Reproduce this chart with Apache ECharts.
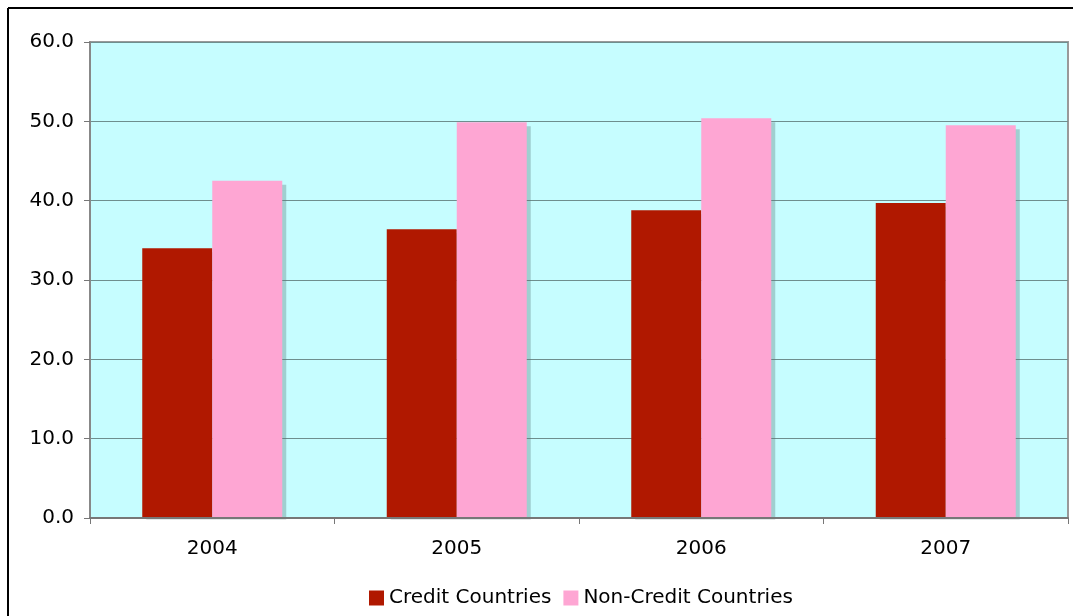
<!DOCTYPE html>
<html><head><meta charset="utf-8">
<script src="https://cdn.jsdelivr.net/npm/echarts@6/dist/echarts.min.js"></script>
<style>html,body{margin:0;padding:0;background:#fff}#c{width:1073px;height:616px}</style>
</head><body><div id="c"></div>
<script>
const categories = ['2004', '2005', '2006', '2007'];
const creditCountries = [34.0, 36.4, 38.8, 39.7];
const nonCreditCountries = [42.5, 49.9, 50.4, 49.5];
const yTicks = { min: 0, max: 60, interval: 10 };

const chart = echarts.init(document.getElementById('c'), null, { renderer: 'canvas' });
const font = '"DejaVu Sans", Verdana, sans-serif';
chart.setOption({
  animation: false,
  backgroundColor: '#fff',
  textStyle: { fontFamily: font },
  graphic: [
    { type: 'line', z: -10, silent: true, shape: { x1: 8, y1: 8, x2: 1073, y2: 8 }, style: { stroke: '#000', lineWidth: 2 } },
    { type: 'line', z: -10, silent: true, shape: { x1: 8, y1: 8, x2: 8, y2: 616 }, style: { stroke: '#000', lineWidth: 2 } },
    { type: 'rect', z: 5, silent: true, shape: { x: 91, y: 519.5, width: 976, height: 5 }, style: { fill: '#fff' } }
  ],
  grid: { left: 90, top: 42, right: 5, bottom: 98, show: true, backgroundColor: '#C6FDFF', borderColor: '#999', borderWidth: 2 },
  legend: {
    bottom: 3, left: 364, itemWidth: 15, itemHeight: 15, itemGap: 12,
    icon: 'rect',
    textStyle: { fontFamily: font, fontSize: 20, color: '#000', padding: [0, 0, 0, 0] },
    data: ['Credit Countries', 'Non-Credit Countries']
  },
  xAxis: {
    type: 'category', data: categories, z: 10,
    axisLine: { lineStyle: { color: '#777', width: 2 } },
    axisTick: { show: true, length: 6, lineStyle: { color: '#777', width: 1 } },
    axisLabel: { fontFamily: font, fontSize: 20, color: '#000', margin: 21 },
    splitLine: { show: false }
  },
  yAxis: {
    type: 'value', min: yTicks.min, max: yTicks.max, interval: yTicks.interval,
    axisLine: { show: true, lineStyle: { color: '#888', width: 2 } },
    axisTick: { show: true, length: 6, lineStyle: { color: '#777' } },
    axisLabel: { fontFamily: font, fontSize: 20, color: '#000', margin: 16, formatter: v => v.toFixed(1) },
    splitLine: { show: true, lineStyle: { color: '#6E8E8E', width: 1 } }
  },
  series: [{
    name: 'Credit Countries', type: 'bar', data: creditCountries,
    barWidth: 70, barGap: '0%',
    itemStyle: { color: '#B01800', shadowColor: 'rgba(90,120,120,0.35)', shadowOffsetX: 4, shadowOffsetY: 4, shadowBlur: 0 }
  }, {
    name: 'Non-Credit Countries', type: 'bar', data: nonCreditCountries,
    barWidth: 70, barGap: '0%',
    itemStyle: { color: '#FEA6D3', shadowColor: 'rgba(90,120,120,0.35)', shadowOffsetX: 4, shadowOffsetY: 4, shadowBlur: 0 }
  }]
});
</script></body></html>
